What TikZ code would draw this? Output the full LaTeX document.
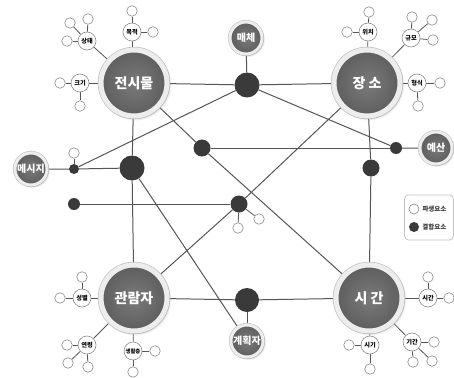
\documentclass[tikz,border=0pt]{standalone}
\usepackage{fontspec}
\newfontfamily\kr{Noto Sans CJK KR}
\usetikzlibrary{shadows,backgrounds}
\definecolor{core}{HTML}{5E5E5E}
\definecolor{corelight}{HTML}{7A7A7A}
\definecolor{ring}{HTML}{EDEDED}
\definecolor{ringedge}{HTML}{C4C4C4}
\definecolor{jdark}{HTML}{3A3A3A}
\definecolor{lineg}{HTML}{555555}
\definecolor{leafg}{HTML}{8A8A8A}
\tikzset{
  big/.style={circle, minimum size=66pt, inner sep=0pt, shading=radial,
    inner color=corelight, outer color=core, draw=ring, line width=5pt,
    preaction={draw=ringedge, line width=6.5pt},
    circular drop shadow={opacity=0.35},
    font=\kr\bfseries\fontsize{14}{14}\selectfont, text=white},
  mid/.style={circle, minimum size=32pt, inner sep=0pt, shading=radial,
    inner color=corelight, outer color=core, draw=ring, line width=3pt,
    preaction={draw=ringedge, line width=4.2pt},
    circular drop shadow={opacity=0.3},
    font=\kr\bfseries\fontsize{10}{10}\selectfont, text=white},
  junc/.style={circle, fill=jdark, inner sep=0pt, minimum size=#1},
  leaf/.style={circle, draw=leafg, fill=white, line width=0.6pt, minimum size=10.5pt, inner sep=0pt},
  lab/.style={circle, draw=leafg, fill=white, line width=0.6pt, minimum size=18pt, inner sep=0.2pt,
    font=\kr\bfseries\fontsize{6.2}{6.2}\selectfont},
  legtext/.style={anchor=west, font=\kr\bfseries\fontsize{6.5}{6.5}\selectfont, text=jdark, inner sep=1pt},
  conn/.style={draw=lineg, line width=1pt},
  thin/.style={draw=lineg, line width=0.8pt},
}
\begin{document}
\begin{tikzpicture}[x=1pt,y=-1pt]
\useasboundingbox (0,0) rectangle (454,377);
% big nodes
\node[big] (jeon) at (134,83) {전시물};
\node[big] (jang) at (367,83) {장 소};
\node[big] (gwan) at (134,298) {관람자};
\node[big] (si) at (369,298) {시 간};
% medium
\node[mid] (mae) at (246,38) {매체};
\node[mid] (ye) at (436,148) {예산};
\node[mid] (msg) at (31,169) {메시지};
\node[mid] (plan) at (247,341) {계획자};
% junctions
\node[junc=25pt] (j1) at (247,85) {};
\node[junc=25pt] (j2) at (132,168) {};
\node[junc=17pt] (j3) at (202,148) {};
\node[junc=17pt] (j4) at (239,204) {};
\node[junc=12pt] (j5) at (396,148) {};
\node[junc=17pt] (j6) at (371,168) {};
\node[junc=10pt] (j7) at (74,169) {};
\node[junc=12pt] (j8) at (74,204) {};
\node[junc=24pt] (j9) at (247,300) {};
\node[leaf] (j7a) at (74,153) {};
\node[leaf] (j4a) at (238,228) {};
\node[leaf] (j4b) at (259,219) {};
% derived labels
\node[lab] (sangtae) at (87,41) {상태};
\node[leaf] (st1) at (67,41) {};
\node[leaf] (st2) at (70,23) {};
\node[leaf] (st3) at (88,19) {};
\node[lab] (mokjeok) at (132,32) {목적};
\node[leaf] (mj1) at (132,11) {};
\node[leaf] (mj2) at (153,32) {};
\node[lab] (keugi) at (80,83) {크기};
\node[leaf] (kg1) at (60,83) {};
\node[leaf] (kg2) at (80,106) {};
\node[lab] (wichi) at (368,32) {위치};
\node[leaf] (wc1) at (369,12) {};
\node[leaf] (wc2) at (347,32) {};
\node[lab] (gyumo) at (411,38) {규모};
\node[leaf] (gm1) at (412,17) {};
\node[leaf] (gm2) at (432,20) {};
\node[leaf] (gm3) at (433,40) {};
\node[lab] (hyeongsik) at (417,83) {형식};
\node[leaf] (hs1) at (440,83) {};
\node[leaf] (hs2) at (418,106) {};
\node[lab] (seongbyeol) at (82,298) {성별};
\node[leaf] (sb1) at (82,277) {};
\node[leaf] (sb2) at (60,298) {};
\node[lab] (yeonryeong) at (87,345) {연령};
\node[leaf] (yr1) at (67,345) {};
\node[leaf] (yr2) at (68,363) {};
\node[leaf] (yr3) at (88,367) {};
\node[lab, font=\kr\bfseries\fontsize{5.4}{5.4}\selectfont] (saenghwal) at (133,351) {생활층};
\node[leaf] (sh1) at (155,351) {};
\node[leaf] (sh2) at (133,372) {};
\node[lab] (sigan) at (428,298) {시간};
\node[leaf] (sg1) at (428,277) {};
\node[leaf] (sg2) at (449,298) {};
\node[lab] (gigan) at (412,342) {기간};
\node[leaf] (gg1) at (434,342) {};
\node[leaf] (gg2) at (413,362) {};
\node[leaf] (gg3) at (432,361) {};
\node[lab] (sigi) at (370,345) {시기};
\node[leaf] (sgi1) at (349,345) {};
\node[leaf] (sgi2) at (370,369) {};
% legend
\node[draw=ringedge, line width=0.8pt, rounded corners=4pt, minimum width=49pt, minimum height=45pt, fill=white] (legend) at (429,217.5) {};
\node[leaf, minimum size=10pt] (lg1) at (414,209) {};
\node[junc=10pt] (lg2) at (414,227) {};
\node[legtext] (lt1) at ([xshift=2pt]lg1.east) {파생요소};
\node[legtext] (lt2) at ([xshift=2pt]lg2.east) {결합요소};
\begin{scope}[on background layer]
\fill[white] (0,0) rectangle (454,377);
\draw[conn] (jeon) -- (j1) -- (jang);
\draw[conn] (mae) -- (j1);
\draw[conn] (j1) -- (j5) -- (ye);
\draw[conn] (j3) -- (j5);
\draw[conn] (jeon) -- (j3) -- (si);
\draw[conn] (j7) -- (j1);
\draw[conn] (msg) -- (j7) -- (j2);
\draw[conn] (jeon) -- (j2) -- (gwan);
\draw[conn] (j2) -- (plan);
\draw[conn] (j8) -- (j4);
\draw[conn] (gwan) -- (j4) -- (jang);
\draw[conn] (jang) -- (j6) -- (si);
\draw[conn] (gwan) -- (j9) -- (si);
\draw[conn] (j9) -- (plan);
\draw[thin] (j4) -- (j4a);
\draw[thin] (j4) -- (j4b);
\draw[thin] (j7) -- (j7a);
\draw[thin] (jeon) -- (sangtae); \draw[thin] (sangtae) -- (st1); \draw[thin] (sangtae) -- (st2); \draw[thin] (sangtae) -- (st3);
\draw[thin] (jeon) -- (mokjeok); \draw[thin] (mokjeok) -- (mj1); \draw[thin] (mokjeok) -- (mj2);
\draw[thin] (jeon) -- (keugi); \draw[thin] (keugi) -- (kg1); \draw[thin] (keugi) -- (kg2);
\draw[thin] (jang) -- (wichi); \draw[thin] (wichi) -- (wc1); \draw[thin] (wichi) -- (wc2);
\draw[thin] (jang) -- (gyumo); \draw[thin] (gyumo) -- (gm1); \draw[thin] (gyumo) -- (gm2); \draw[thin] (gyumo) -- (gm3);
\draw[thin] (jang) -- (hyeongsik); \draw[thin] (hyeongsik) -- (hs1); \draw[thin] (hyeongsik) -- (hs2);
\draw[thin] (gwan) -- (seongbyeol); \draw[thin] (seongbyeol) -- (sb1); \draw[thin] (seongbyeol) -- (sb2);
\draw[thin] (gwan) -- (yeonryeong); \draw[thin] (yeonryeong) -- (yr1); \draw[thin] (yeonryeong) -- (yr2); \draw[thin] (yeonryeong) -- (yr3);
\draw[thin] (gwan) -- (saenghwal); \draw[thin] (saenghwal) -- (sh1); \draw[thin] (saenghwal) -- (sh2);
\draw[thin] (si) -- (sigan); \draw[thin] (sigan) -- (sg1); \draw[thin] (sigan) -- (sg2);
\draw[thin] (si) -- (gigan); \draw[thin] (gigan) -- (gg1); \draw[thin] (gigan) -- (gg2); \draw[thin] (gigan) -- (gg3);
\draw[thin] (si) -- (sigi); \draw[thin] (sigi) -- (sgi1); \draw[thin] (sigi) -- (sgi2);
\end{scope}
\end{tikzpicture}
\end{document}
